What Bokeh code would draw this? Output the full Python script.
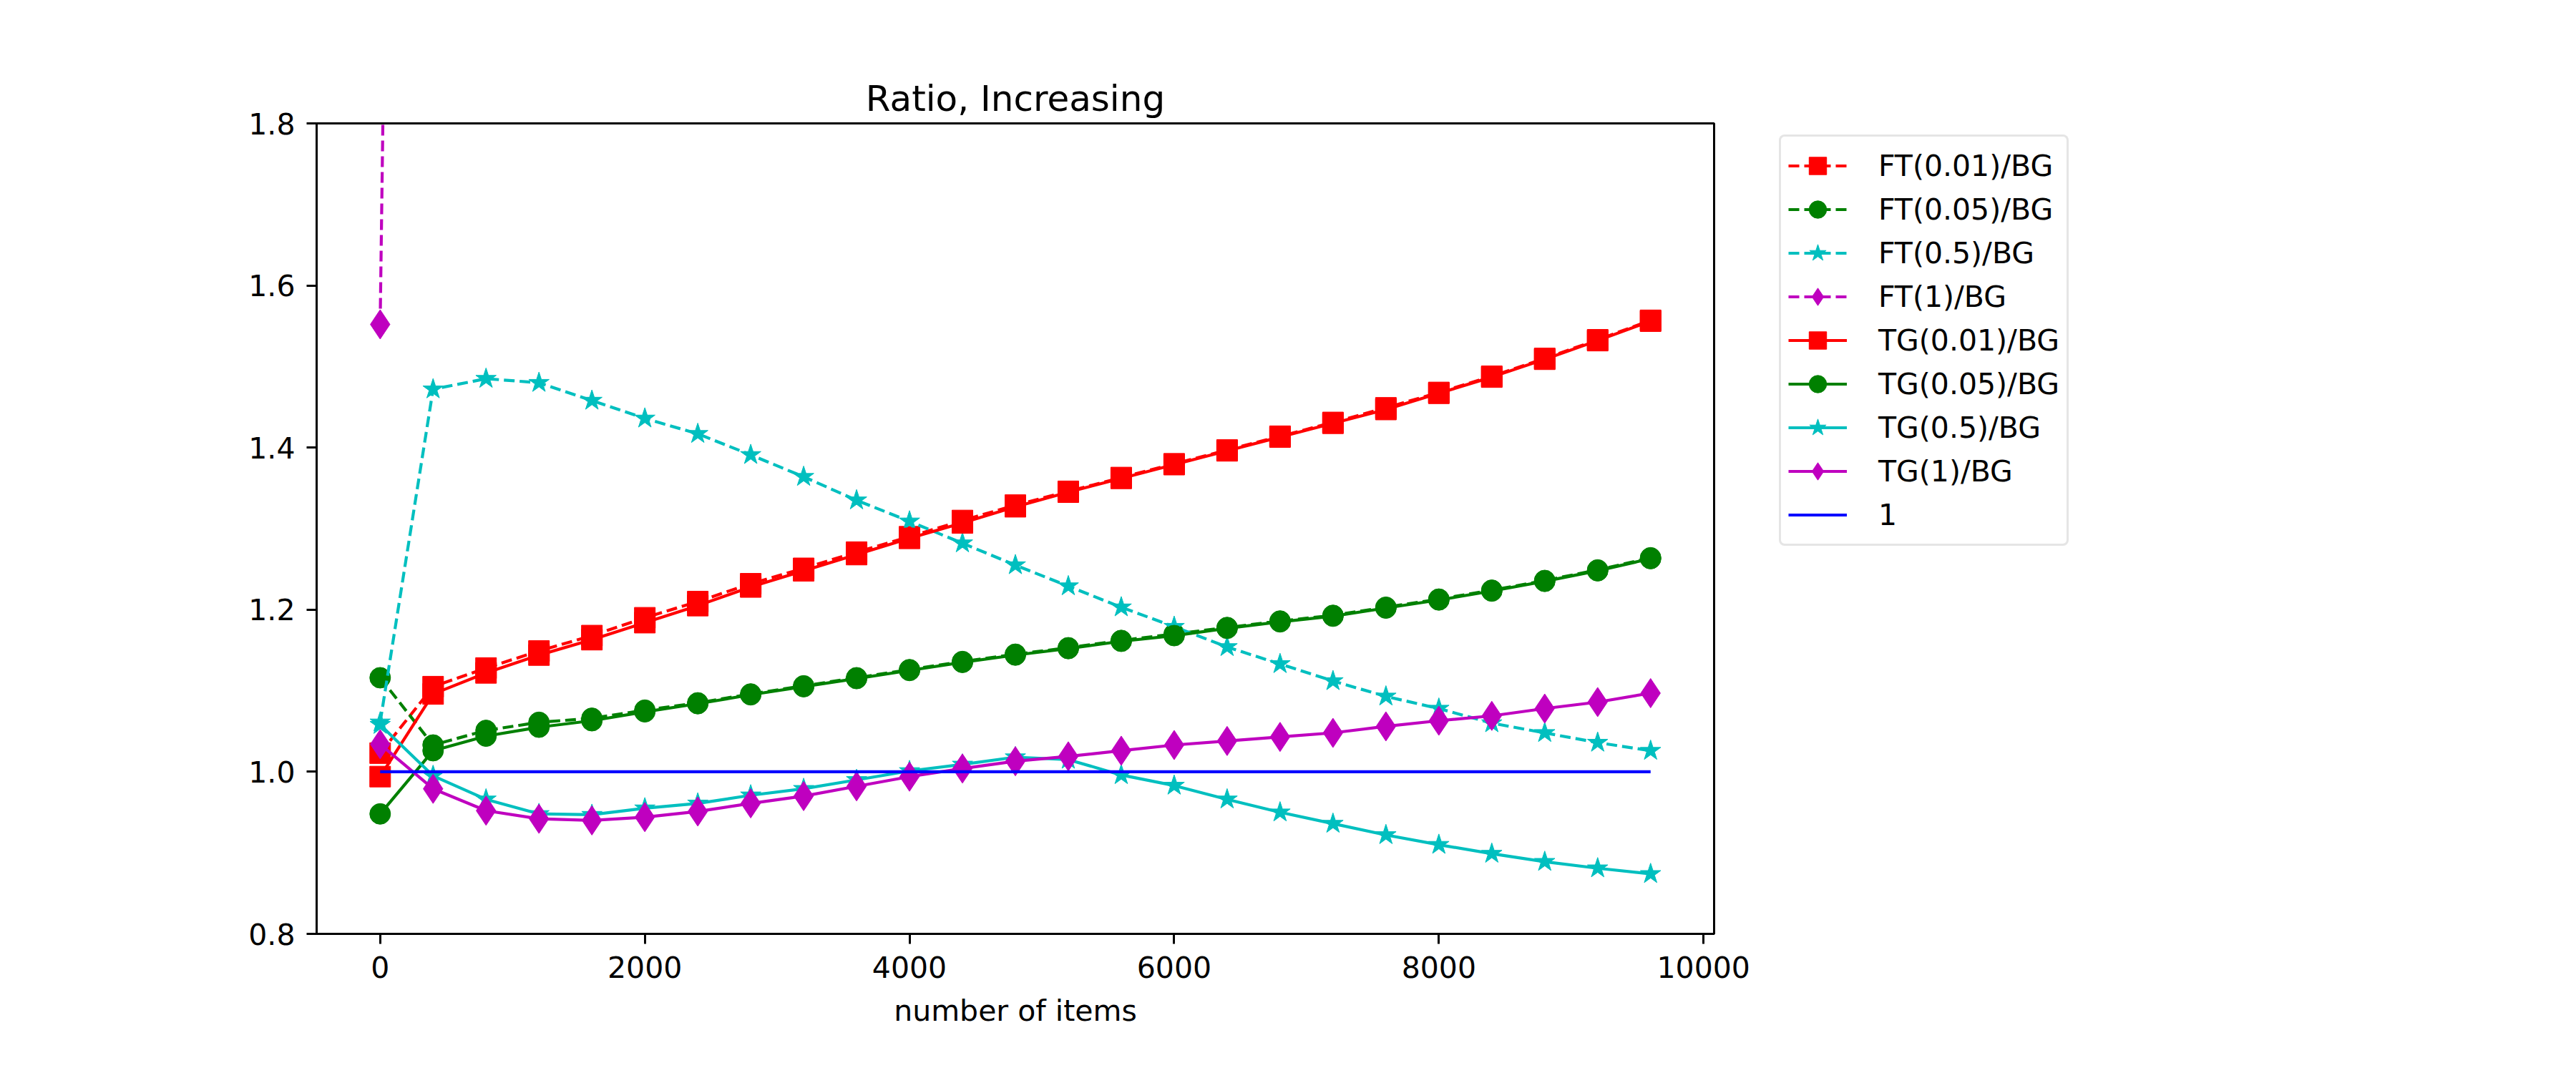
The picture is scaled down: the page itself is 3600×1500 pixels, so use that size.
from bokeh.plotting import figure
from bokeh.models import (Range1d, FixedTicker, PrintfTickFormatter, Legend, LegendItem)
from bokeh.embed import file_html
from bokeh.resources import INLINE

# ---------------- data ----------------
n_items = [0, 400, 800, 1200, 1600, 2000, 2400, 2800, 3200, 3600, 4000, 4400, 4800,
           5200, 5600, 6000, 6400, 6800, 7200, 7600, 8000, 8400, 8800, 9200, 9600]

ft_001 = [1.023, 1.105, 1.128, 1.149, 1.168, 1.190, 1.210, 1.232, 1.251, 1.271, 1.290, 1.310, 1.329,
          1.346, 1.363, 1.380, 1.397, 1.414, 1.431, 1.449, 1.468, 1.488, 1.510, 1.533, 1.557]
ft_005 = [1.116, 1.033, 1.051, 1.061, 1.066, 1.076, 1.085, 1.096, 1.106, 1.116, 1.126, 1.136, 1.145,
          1.153, 1.162, 1.170, 1.178, 1.186, 1.193, 1.203, 1.213, 1.224, 1.236, 1.249, 1.264]
ft_05 = [1.061, 1.472, 1.485, 1.480, 1.458, 1.436, 1.417, 1.391, 1.364, 1.335, 1.309, 1.282, 1.255,
         1.229, 1.203, 1.179, 1.154, 1.133, 1.112, 1.093, 1.078, 1.060, 1.048, 1.036, 1.026]
# only the first point is inside the visible range; the rest lie far above 1.8
ft_1 = [1.552, 6.4, 8.1, 9.3, 10.2, 10.9, 11.5, 12.0, 12.4, 12.8, 13.1, 13.4, 13.7,
        13.9, 14.1, 14.3, 14.5, 14.7, 14.8, 15.0, 15.1, 15.2, 15.3, 15.4, 15.5]

tg_001 = [0.994, 1.096, 1.122, 1.144, 1.163, 1.184, 1.205, 1.228, 1.248, 1.268, 1.288, 1.307, 1.327,
          1.345, 1.362, 1.379, 1.396, 1.413, 1.430, 1.447, 1.467, 1.487, 1.509, 1.532, 1.556]
tg_005 = [0.948, 1.026, 1.044, 1.055, 1.063, 1.074, 1.084, 1.095, 1.105, 1.115, 1.125, 1.135, 1.144,
          1.152, 1.161, 1.168, 1.177, 1.185, 1.192, 1.202, 1.212, 1.223, 1.235, 1.248, 1.263]
tg_05 = [1.058, 0.995, 0.966, 0.948, 0.947, 0.955, 0.961, 0.971, 0.979, 0.990, 1.001, 1.009, 1.018,
         1.015, 0.996, 0.983, 0.966, 0.950, 0.936, 0.922, 0.910, 0.899, 0.889, 0.881, 0.874]
tg_1 = [1.034, 0.979, 0.952, 0.942, 0.940, 0.944, 0.951, 0.961, 0.970, 0.982, 0.994, 1.004, 1.013,
        1.019, 1.026, 1.033, 1.038, 1.043, 1.048, 1.056, 1.063, 1.069, 1.078, 1.086, 1.097]

one_line = [1.0, 1.0, 1.0, 1.0, 1.0, 1.0, 1.0, 1.0, 1.0, 1.0, 1.0, 1.0, 1.0,
            1.0, 1.0, 1.0, 1.0, 1.0, 1.0, 1.0, 1.0, 1.0, 1.0, 1.0, 1.0]

series_labels = ["FT(0.01)/BG", "FT(0.05)/BG", "FT(0.5)/BG", "FT(1)/BG",
                 "TG(0.01)/BG", "TG(0.05)/BG", "TG(0.5)/BG", "TG(1)/BG", "1"]

x_ticks = [0, 2000, 4000, 6000, 8000, 10000]
y_ticks = [0.8, 1.0, 1.2, 1.4, 1.6, 1.8]

# ---------------- figure ----------------
FONT = "DejaVu Sans"
W, H = 3584, 1484
p = figure(width=W, height=H, output_backend="svg", toolbar_location=None,
           x_range=Range1d(-480, 10080), y_range=Range1d(0.8, 1.8),
           min_border_left=442, min_border_right=1189, min_border_top=172, min_border_bottom=179,
           title="Ratio, Increasing")
p.background_fill_color = "white"
p.border_fill_color = "white"
p.outline_line_color = "black"
p.outline_line_width = 3
p.grid.visible = False

p.title.text_font = FONT
p.title.text_font_size = "50px"
p.title.text_font_style = "normal"
p.title.text_color = "black"
p.title.align = "center"
p.title.standoff = 12

for ax in (p.xaxis[0], p.yaxis[0]):
    ax.axis_line_width = 3
    ax.major_tick_line_width = 3
    ax.major_tick_out = 14
    ax.major_tick_in = 0
    ax.minor_tick_line_color = None
    ax.major_label_text_font = FONT
    ax.major_label_text_font_size = "41px"
    ax.major_label_text_color = "black"

p.xaxis.ticker = FixedTicker(ticks=x_ticks)
p.yaxis.ticker = FixedTicker(ticks=y_ticks)
p.yaxis.formatter = PrintfTickFormatter(format="%.1f")
p.xaxis.major_label_standoff = 17
p.yaxis.major_label_standoff = 16
p.xaxis.axis_label = "number of items"
p.xaxis.axis_label_text_font = FONT
p.xaxis.axis_label_text_font_size = "41px"
p.xaxis.axis_label_text_font_style = "normal"
p.xaxis.axis_label_text_color = "black"
p.xaxis.axis_label_standoff = 19

LW = 4.2
DASH = "15 7"
styles = [
    (ft_001, "#ff0000", "square", 29, DASH),
    (ft_005, "#008000", "circle", 29, DASH),
    (ft_05, "#00bfbf", "star", 30, DASH),
    (ft_1, "#bf00bf", "diamond", 41, DASH),
    (tg_001, "#ff0000", "square", 29, "solid"),
    (tg_005, "#008000", "circle", 29, "solid"),
    (tg_05, "#00bfbf", "star", 30, "solid"),
    (tg_1, "#bf00bf", "diamond", 41, "solid"),
]

items = []
for (ys, col, mk, sz, dash), lab in zip(styles, series_labels[:8]):
    lr = p.line(n_items, ys, line_color=col, line_width=LW, line_dash=dash)
    sr = p.scatter(n_items, ys, marker=mk, size=sz, fill_color=col, line_color=col, line_width=1)
    items.append(LegendItem(label=lab, renderers=[lr, sr]))

br = p.line(n_items, one_line, line_color="#0000ff", line_width=LW)
items.append(LegendItem(label=series_labels[8], renderers=[br]))

# legend geometry, relative to the right side panel (x from its left, y from its bottom)
PAD, GH, GW, STANDOFF = 10, 61, 82, 44
N_ROWS = len(items)
LEG_H = 2 * PAD + N_ROWS * GH
LX = 91
LY_BOTTOM = 1133 - 22 - LEG_H

legend = Legend(items=items, location=(LX, LY_BOTTOM), orientation="vertical")
legend.margin = 0
legend.padding = PAD
legend.spacing = 0
legend.glyph_width = GW
legend.glyph_height = GH
legend.label_standoff = STANDOFF
legend.label_text_font = FONT
legend.label_text_font_size = "41px"
legend.label_text_color = "black"
legend.border_line_color = "#cccccc"
legend.border_line_width = 3
legend.background_fill_color = "white"
legend.background_fill_alpha = 1.0
if "border_radius" in Legend.properties():
    legend.border_radius = 8
p.add_layout(legend, "right")

open("out.html", "w").write(file_html(p, INLINE))
